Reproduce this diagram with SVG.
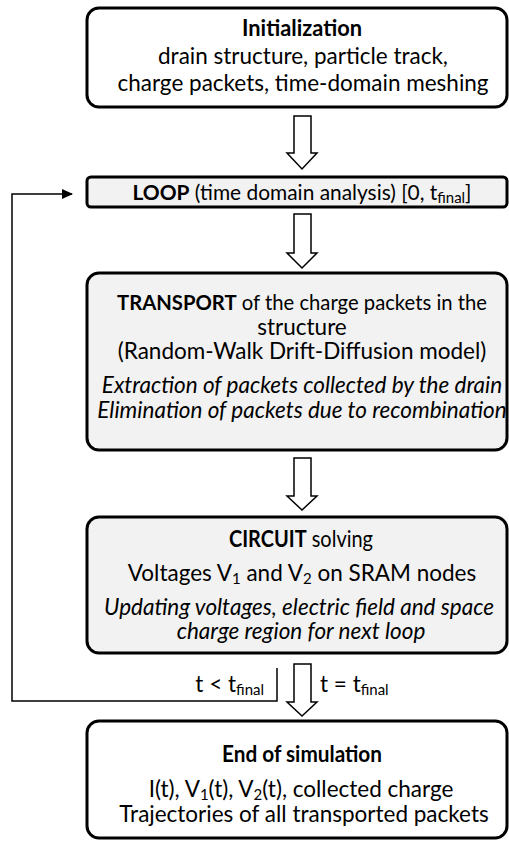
<svg xmlns="http://www.w3.org/2000/svg" width="509" height="841" viewBox="0 0 509 841">
<defs>
<style>
.box{stroke:#000;stroke-width:3;}
.w{fill:#fff;}
.g{fill:#f2f2f2;}
.t{font-family:Lato,"Liberation Sans",sans-serif;font-size:22.5px;fill:#000;text-anchor:middle;}
.b{font-weight:bold;}
.i{font-style:italic;}
.s{font-size:15px;}
.harrow{fill:#fff;stroke:#000;stroke-width:1.5;stroke-linejoin:miter;}
.line{fill:none;stroke:#000;stroke-width:1.5;}
</style>
<marker id="ah" markerWidth="11" markerHeight="10" refX="10" refY="5" orient="auto" markerUnits="userSpaceOnUse">
<path d="M0,0 L11,5 L0,10 Z" fill="#000"/>
</marker>
</defs>
<rect width="509" height="841" fill="#fff"/>

<g id="connectors">
<path class="harrow" d="M294,116 H311 V153 H317 L302,169 L287,153 H294 Z"/>
<path class="harrow" d="M294,214 H311 V253 H317 L302,268 L287,253 H294 Z"/>
<path class="harrow" d="M294,458 H311 V496 H317 L302,510 L287,496 H294 Z"/>
<path class="harrow" d="M294,664 H311 V702 H317 L302,716 L287,702 H294 Z"/>
<polyline class="line" points="277,668 277,701 12,701 12,194 72,194" marker-end="url(#ah)"/>
<text class="t" x="264" y="692" style="text-anchor:end">t &lt; t<tspan class="s" dy="3">final</tspan></text>
<text class="t" x="320" y="692" style="text-anchor:start">t = t<tspan class="s" dy="3">final</tspan></text>
</g>

<g id="init">
<rect class="box w" x="87" y="8" width="420" height="99" rx="12"/>
<text class="t b" x="302" y="36" textLength="120" lengthAdjust="spacingAndGlyphs">Initialization</text>
<text class="t" x="303" y="64">drain structure, particle track,</text>
<text class="t" x="303" y="91">charge packets, time-domain meshing</text>
</g>

<g id="loop">
<rect class="box g" x="87" y="177" width="420" height="30" rx="4"/>
<text class="t" x="302" y="200" style="font-size:21px" textLength="339" lengthAdjust="spacingAndGlyphs"><tspan class="b">LOOP</tspan> (time domain analysis) [0, t<tspan class="s" dy="3">final</tspan><tspan dy="-3">]</tspan></text>
</g>

<g id="transport">
<rect class="box g" x="87" y="273" width="420" height="177" rx="12"/>
<text class="t" x="302" y="310" style="font-size:21px" textLength="370" lengthAdjust="spacingAndGlyphs"><tspan class="b">TRANSPORT</tspan> of the charge packets in the</text>
<text class="t" x="302" y="335">structure</text>
<text class="t" x="302" y="359">(Random-Walk Drift-Diffusion model)</text>
<text class="t i" x="302" y="393">Extraction of packets collected by the drain</text>
<text class="t i" x="302" y="418">Elimination of packets due to recombination</text>
</g>

<g id="circuit">
<rect class="box g" x="87" y="517" width="420" height="136" rx="12"/>
<text class="t" x="301" y="547" textLength="144" lengthAdjust="spacingAndGlyphs"><tspan class="b">CIRCUIT</tspan> solving</text>
<text class="t" x="302" y="581">Voltages V<tspan class="s" dy="3">1</tspan><tspan dy="-3"> and V</tspan><tspan class="s" dy="3">2</tspan><tspan dy="-3"> on SRAM nodes</tspan></text>
<text class="t i" x="299" y="615">Updating voltages, electric field and space</text>
<text class="t i" x="301" y="639">charge region for next loop</text>
</g>

<g id="end">
<rect class="box w" x="87" y="721" width="420" height="117" rx="12"/>
<text class="t b" x="302" y="762" textLength="160" lengthAdjust="spacingAndGlyphs">End of simulation</text>
<text class="t" x="301" y="797">I(t), V<tspan class="s" dy="3">1</tspan><tspan dy="-3">(t), V</tspan><tspan class="s" dy="3">2</tspan><tspan dy="-3">(t), collected charge</tspan></text>
<text class="t" x="304" y="822">Trajectories of all transported packets</text>
</g>
</svg>
